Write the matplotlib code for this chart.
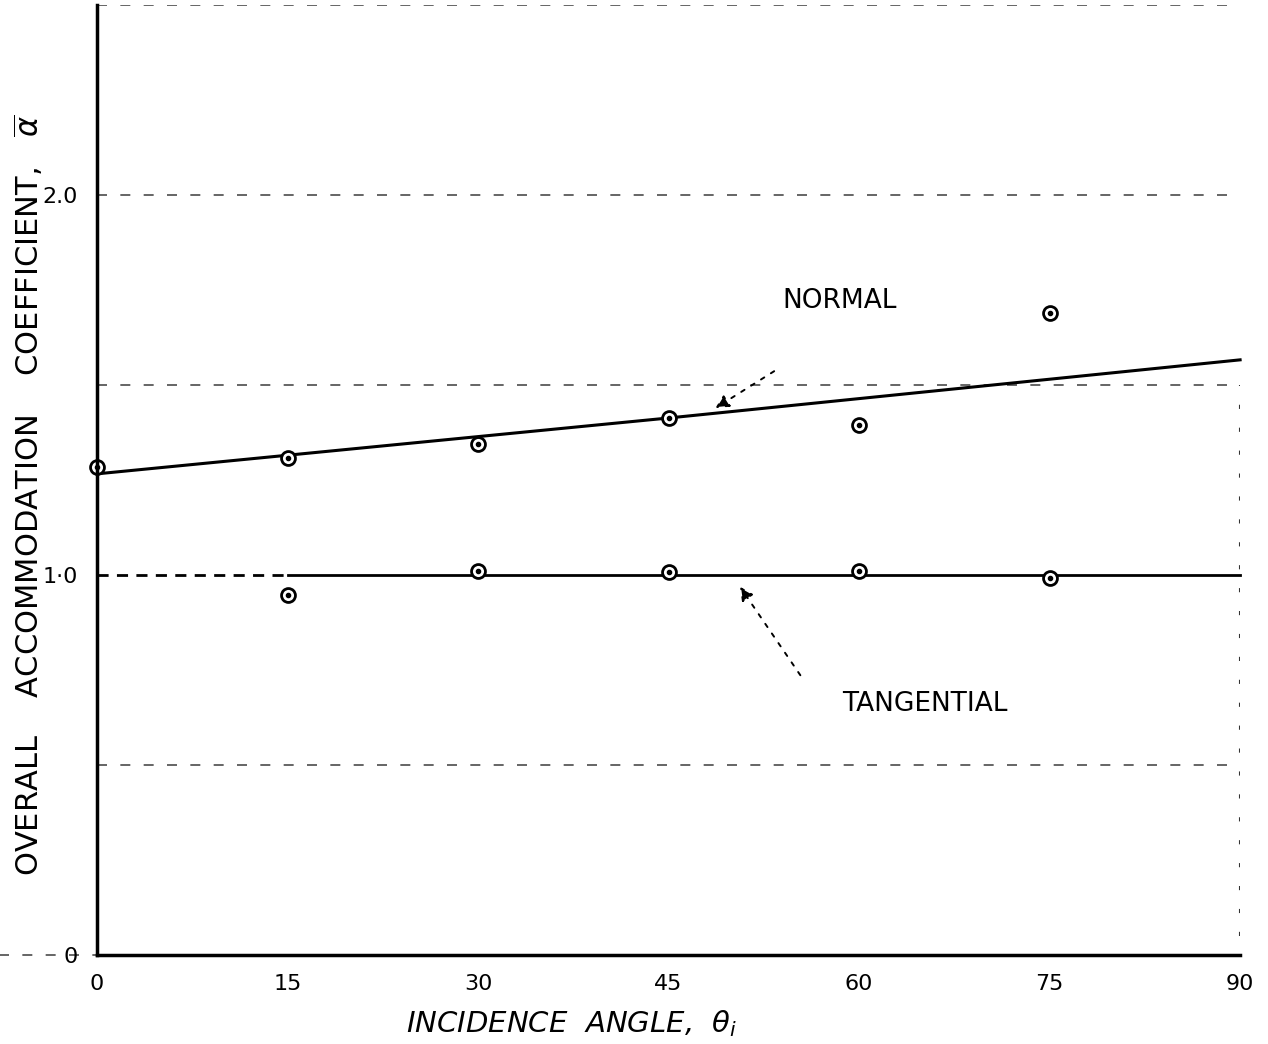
import matplotlib
matplotlib.use("Agg")
import matplotlib.pyplot as plt

angles = [0, 15, 30, 45, 60, 75]
normal_vals = [1.284, 1.308, 1.345, 1.413, 1.395, 1.689]
tang_angles = [15, 30, 45, 60, 75]
tang_vals = [0.947, 1.011, 1.008, 1.010, 0.992]

# hand-drawn faired curves
normal_fit_x = [0, 45, 90]
normal_fit_y = [1.266, 1.413, 1.566]
tang_fit_x = [15, 90]
tang_fit_y = [1.0, 1.0]
tang_ext_x = [0, 15]
tang_ext_y = [1.0, 1.0]

grid_levels = [0.5, 1.5, 2.0, 2.5]
xticks = [0, 15, 30, 45, 60, 75, 90]
yticks = [0, 1.0, 2.0]
ytick_labels = ["0", "1·0", "2.0"]

plt.rcParams['font.family'] = ['DejaVu Sans']
fig = plt.figure(figsize=(12.68, 10.44), dpi=100)
ax = fig.add_axes([0.0765, 0.0853, 0.9015, 0.910])
ax.set_xlim(0, 90)
ax.set_ylim(0, 2.5)

for s in ['top', 'right']:
    ax.spines[s].set_visible(False)
ax.spines['left'].set_linewidth(2.5)
ax.spines['bottom'].set_linewidth(2.5)

# dashed guide lines
for lv in grid_levels:
    ax.axhline(lv, color='black', lw=1.2, ls=(0, (6, 8)), alpha=0.7)
ax.axvline(90, ymin=0.02, ymax=0.6, color='black', lw=1.5, ls=(0, (2, 9)), alpha=0.8)
ax.plot([-8, 0], [0, 0], color='black', lw=1.2, ls=(0, (6, 8)), alpha=0.7, clip_on=False)

# curves
ax.plot(normal_fit_x, normal_fit_y, color='black', lw=2.2, clip_on=False)
ax.plot(tang_fit_x, tang_fit_y, color='black', lw=2.0, clip_on=False)
ax.plot(tang_ext_x, tang_ext_y, color='black', lw=2.0, ls=(0, (4, 3)))

# data points: open circle with a dot in it
for xs, ys in [(angles, normal_vals), (tang_angles, tang_vals)]:
    ax.plot(xs, ys, ls='none', marker='o', ms=10, mfc='white', mec='black', mew=2.0, clip_on=False)
    ax.plot(xs, ys, ls='none', marker='o', ms=3, color='black', clip_on=False)

ax.set_xticks(xticks)
ax.set_xticklabels([str(t) for t in xticks], fontsize=16)
ax.set_yticks(yticks)
ax.set_yticklabels(ytick_labels, fontsize=16)
ax.tick_params(length=0, pad=14)

fig.text(0.451, 0.020, r"INCIDENCE  ANGLE,  $\theta_i$", fontsize=21, style='italic',
         ha='center', va='center')
fig.text(0.022, 0.525, r"OVERALL    ACCOMMODATION    COEFFICIENT,   $\overline{\alpha}$",
         fontsize=22, rotation=90, ha='center', va='center',
         family=['Liberation Sans Narrow', 'DejaVu Sans'])

# labels and hand-drawn pointers
ax.text(58.5, 1.72, "NORMAL", fontsize=19, ha='center', va='center')
ax.annotate("", xy=(48.5, 1.435), xytext=(53.5, 1.54),
            arrowprops=dict(arrowstyle='-|>', color='black', lw=1.4, ls=(0, (2, 4)),
                            mutation_scale=20))
ax.text(65.2, 0.66, "TANGENTIAL", fontsize=19, ha='center', va='center')
ax.annotate("", xy=(50.5, 0.975), xytext=(55.5, 0.73),
            arrowprops=dict(arrowstyle='-|>', color='black', lw=1.4, ls=(0, (2, 4)),
                            mutation_scale=20))

fig.savefig("out.png", dpi=100)
